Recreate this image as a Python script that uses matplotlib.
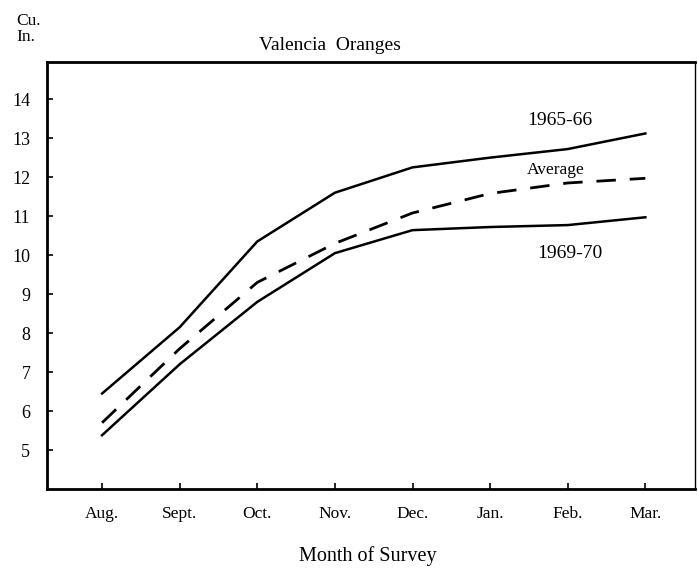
import matplotlib
matplotlib.use('Agg')
import matplotlib.pyplot as plt

plt.rcParams['font.family'] = ['Liberation Serif', 'DejaVu Serif']

months = ['Aug.', 'Sept.', 'Oct.', 'Nov.', 'Dec.', 'Jan.', 'Feb.', 'Mar.']
y_1965 = [6.45, 8.15, 10.35, 11.6, 12.25, 12.5, 12.72, 13.12]
y_avg = [5.7, 7.6, 9.3, 10.3, 11.08, 11.58, 11.85, 11.97]
y_1969 = [5.38, 7.2, 8.8, 10.05, 10.64, 10.72, 10.77, 10.97]
yticks = [5, 6, 7, 8, 9, 10, 11, 12, 13, 14]

fig = plt.figure(figsize=(6.98, 5.86), dpi=100)
ax = fig.add_axes([0.0673, 0.1655, 0.9284, 0.7285])

x = range(len(months))
ax.plot(x, y_1965, color='black', lw=1.8)
ax.plot(x, y_avg, color='black', lw=2.0, dashes=(7, 5))
ax.plot(x, y_1969, color='black', lw=1.8)

ax.set_xlim(-0.71, 7.64)
ax.set_ylim(4.0, 14.95)
ax.set_xticks(list(x))
ax.set_xticklabels(months, fontsize=12.5)
ax.set_yticks(yticks)
ax.set_yticklabels([str(t) for t in yticks], fontsize=13)
ax.tick_params(axis='both', direction='in', length=4, width=1.2)
ax.tick_params(axis='x', pad=12)
ax.tick_params(axis='y', pad=12)

for side in ['left', 'bottom', 'top']:
    ax.spines[side].set_linewidth(2.0)
ax.spines['right'].set_linewidth(1.0)

ax.text(5.9, 13.44, '1965-66', fontsize=14, ha='center', va='center')
ax.text(5.84, 12.18, 'Average', fontsize=12.5, ha='center', va='center')
ax.text(6.03, 10.05, '1969-70', fontsize=14, ha='center', va='center')

fig.text(330 / 698, 1 - 45 / 586, 'Valencia  Oranges', fontsize=14, ha='center', va='center')
fig.text(16 / 698, 1 - 29 / 586, 'Cu.\nIn.', fontsize=12.5, ha='left', va='center', linespacing=1.05)
fig.text(368 / 698, 1 - 556 / 586, 'Month of Survey', fontsize=14.5, ha='center', va='center')

fig.savefig('out.png', dpi=100)
